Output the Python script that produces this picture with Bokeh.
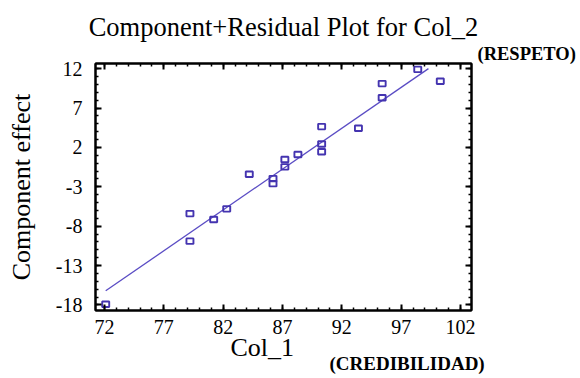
from bokeh.plotting import figure
from bokeh.models import LinearAxis, FixedTicker, Title, CustomJSTickFormatter, Range1d
from bokeh.embed import file_html
from bokeh.resources import INLINE

# ---- data ----
col1 = [72.1, 79.2, 79.2, 81.2, 82.3, 84.2, 86.2, 86.2, 87.2, 87.2,
        88.3, 90.3, 90.3, 90.3, 93.4, 95.4, 95.4, 98.4, 100.3]
effect = [-17.9, -6.4, -9.9, -7.15, -5.8, -1.4, -1.96, -2.6, 0.47, -0.47,
          1.1, 4.64, 2.43, 1.45, 4.43, 10.1, 8.3, 11.9, 10.4]
fit_x = [72.1, 99.3]
fit_y = [-16.2, 12.0]

x_ticks = [72, 77, 82, 87, 92, 97, 102]
x_tick_labels = ["72", "77", "82", "87", "92", "97", "102"]
y_ticks = [-18, -13, -8, -3, 2, 7, 12]
y_tick_labels = ["-18", "-13", "-8", "-3", "2", "7", "12"]
x_minor = list(range(71, 104))
y_minor = list(range(-18, 13))

title_text = "Component+Residual Plot for Col_2"
x_label = "Col_1"
y_label = "Component effect"
x_note = "(CREDIBILIDAD)"
y_note = "(RESPETO)"

SERIF = "Liberation Serif"
MARK = "#4434b0"
LINE = "#5a4cc4"

p = figure(width=580, height=378, x_range=Range1d(71.24, 102.93),
           y_range=Range1d(-18.7, 12.65), output_backend="svg",
           toolbar_location=None, x_axis_location=None, y_axis_location=None,
           min_border_left=95, min_border_right=109, min_border_top=63,
           min_border_bottom=68)
p.title.visible = False
p.grid.visible = False
p.outline_line_color = "black"
p.outline_line_width = 2
p.background_fill_color = "white"
p.border_fill_color = "white"

blank = CustomJSTickFormatter(code='return ""')

def style(ax, ticks, minor, labels=None):
    ax.ticker = FixedTicker(ticks=ticks, minor_ticks=minor)
    ax.axis_line_color = "black"
    ax.axis_line_width = 2
    ax.major_tick_in = 6
    ax.major_tick_out = 0
    ax.minor_tick_in = 3
    ax.minor_tick_out = 0
    ax.major_tick_line_color = "black"
    ax.major_tick_line_width = 2
    ax.minor_tick_line_color = "black"
    ax.minor_tick_line_width = 1.5
    ax.major_label_text_font = SERIF
    ax.major_label_text_font_size = "20px"
    ax.major_label_text_color = "black"
    ax.axis_label_text_font = SERIF
    ax.axis_label_text_font_size = "26px"
    ax.axis_label_text_font_style = "normal"
    ax.axis_label_text_color = "black"
    if labels is None:
        ax.formatter = blank
        ax.major_label_text_font_size = "1px"
        ax.major_label_standoff = 0
    else:
        ax.major_label_overrides = {t: s for t, s in zip(ticks, labels)}

xb = LinearAxis(); style(xb, x_ticks, x_minor, x_tick_labels)
xb.major_label_standoff = 9
yl = LinearAxis(); style(yl, y_ticks, y_minor, y_tick_labels)
yl.major_label_standoff = 13
yl.axis_label = y_label
yl.axis_label_standoff = 17
xt = LinearAxis(); style(xt, x_ticks, x_minor)
yr = LinearAxis(); style(yr, y_ticks, y_minor)
p.add_layout(xb, "below")
p.add_layout(yl, "left")
p.add_layout(xt, "above")
p.add_layout(yr, "right")

def title(text, size, bold, align, offset, standoff, valign="bottom"):
    return Title(text=text, text_font=SERIF, text_font_size=size,
                 text_font_style="bold" if bold else "normal", text_color="black",
                 align=align, offset=offset, standoff=standoff,
                 vertical_align=valign)

p.add_layout(title(y_note, "18.5px", True, "left", 382, 0), "above")
p.add_layout(title(title_text, "26.5px", False, "center", 0, 0), "above")
p.add_layout(title(x_label, "26px", False, "left", 135, -8, "top"), "below")
p.add_layout(title(x_note, "19px", True, "left", 234, -13, "top"), "below")

p.line(fit_x, fit_y, line_color=LINE, line_width=1.3)
p.rect(col1, effect, width=7, height=5.5, width_units="screen",
       height_units="screen", fill_color=None, line_color=MARK, line_width=1.9)

open("out.html", "w").write(file_html(p, INLINE))
